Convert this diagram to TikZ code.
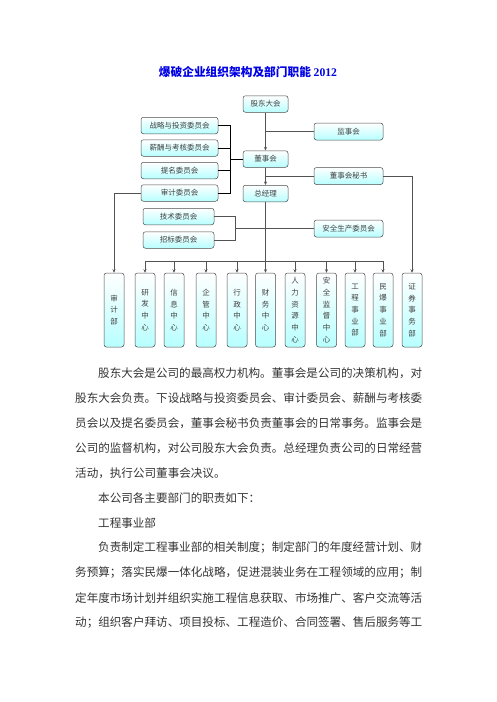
\documentclass[tikz,border=0pt]{standalone}
\usepackage{fontspec}
\usetikzlibrary{arrows.meta}
\newfontfamily\cjk{Noto Sans CJK SC}
\newfontfamily\lat{Liberation Serif}

\tikzset{
  box/.style={draw=gray!60!black, line width=0.5pt, rounded corners=2.5pt,
    top color=white, bottom color=cyan!28, inner sep=0pt,
    font=\cjk\fontsize{7.5}{9}\selectfont, text=black!75},
  mid/.style={box, minimum width=45pt, minimum height=16.5pt},
  lwide/.style={box, minimum width=77pt, minimum height=16.5pt},
  lnarrow/.style={box, minimum width=71pt, minimum height=16.5pt},
  rwide/.style={box, minimum width=69pt, minimum height=17pt},
  dept/.style={box, minimum width=20pt, minimum height=74pt, align=center,
    font=\cjk\fontsize{7.5}{11.7}\selectfont},
  ln/.style={draw=gray!65!black, line width=0.5pt},
  thk/.style={draw=black, line width=0.9pt},
  arr/.style={ln, -{Stealth[length=3.5pt,width=3pt]}},
  txt/.style={anchor=west, inner sep=0pt, text=black!80,
    font=\cjk\fontsize{11.57}{12}\selectfont}
}

\begin{document}
\begin{tikzpicture}[x=1pt, y=-1pt]
    \useasboundingbox (0,0) rectangle (496,702);

    % Title
    \node[font=\cjk\bfseries\fontsize{11.7}{13}\selectfont, text=blue!90!black] (ttl) at (248,72.5) {爆破企业组织架构及部门职能 {\lat\bfseries 2012}};

    % Top of the chart
    \node[mid] (gd) at (265.5,104) {股东大会};
    \node[mid] (dsh) at (265.5,159) {董事会};
    \node[mid] (zjl) at (265.5,193.5) {总经理};

    % Committees on the left
    \node[lwide] (zl) at (179.5,125.5) {战略与投资委员会};
    \node[lwide] (xc) at (179.5,148) {薪酬与考核委员会};
    \node[lwide] (tm) at (179.5,170.5) {提名委员会};
    \node[lwide] (sj) at (179.5,193) {审计委员会};
    \node[lnarrow] (js) at (178.5,216.5) {技术委员会};
    \node[lnarrow] (zb) at (178.5,240) {招标委员会};

    % Boxes on the right
    \node[rwide] (jsh) at (348.5,131.5) {监事会};
    \node[rwide] (ms) at (348.5,176) {董事会秘书};
    \node[rwide] (aq) at (348.5,228.5) {安全生产委员会};

    % Departments
    \foreach \n/\x/\t in {1/114/{审\\计\\部}, 2/145/{研\\发\\中\\心}, 3/174/{信\\息\\中\\心},
        4/206/{企\\管\\中\\心}, 5/237/{行\\政\\中\\心}, 6/265.5/{财\\务\\中\\心},
        7/295/{人\\力\\资\\源\\中\\心}, 8/326.5/{安\\全\\监\\督\\中\\心},
        9/355/{工\\程\\事\\业\\部}, 10/383/{民\\爆\\事\\业\\部}, 11/412/{证\\券\\事\\务\\部}}
        \node[dept] (d\n) at (\x,310) {\t};

    % Main line
    \draw[arr] (gd) -- (dsh);
    \draw[arr] (dsh) -- (zjl);
    \draw[ln] (jsh.west) -- (gd |- jsh.west);
    \draw[ln] (ms.west) -- (gd |- ms.west);

    % Committees bracket
    \coordinate (lb) at (230,159);
    \draw[thk] (zl.east) -- (zl.east -| lb) -- (sj.east -| lb) -- (sj.east);
    \draw[thk] (xc.east) -- (xc.east -| lb);
    \draw[thk] (tm.east) -- (tm.east -| lb);
    \draw[thk] (lb) -- (dsh.west);

    % Technical and bidding committees
    \coordinate (rb) at (235,228.5);
    \draw[ln] (js.east) -- (js.east -| rb) -- (zb.east -| rb) -- (zb.east);
    \draw[ln] (rb) -- (aq.west);

    % Side arrows
    \draw[arr] (ms.east) -| (d11.north);
    \draw[arr] (sj.west) -| (d1.north);

    % Bus to departments
    \coordinate (bus) at (265.5,261);
    \draw[ln] (zjl.south) -- (bus);
    \draw[ln] (d2.north |- bus) -- (d10.north |- bus);
    \foreach \i in {2,...,10}
        \draw[arr] (d\i.north |- bus) -- (d\i.north);

    % Text below
    \node[txt] (p1) at (98,373.5) {股东大会是公司的最高权力机构。董事会是公司的决策机构，对};
    \node[txt] (p2) at (75,398.4) {股东大会负责。下设战略与投资委员会、审计委员会、薪酬与考核委};
    \node[txt] (p3) at (75,423.3) {员会以及提名委员会，董事会秘书负责董事会的日常事务。监事会是};
    \node[txt] (p4) at (75,448.2) {公司的监督机构，对公司股东大会负责。总经理负责公司的日常经营};
    \node[txt] (p5) at (75,473.1) {活动，执行公司董事会决议。};
    \node[txt] (p6) at (98,498) {本公司各主要部门的职责如下：};
    \node[txt] (p7) at (98,522.9) {工程事业部};
    \node[txt] (p8) at (98,547.8) {负责制定工程事业部的相关制度；制定部门的年度经营计划、财};
    \node[txt] (p9) at (75,572.7) {务预算；落实民爆一体化战略，促进混装业务在工程领域的应用；制};
    \node[txt] (p10) at (75,597.6) {定年度市场计划并组织实施工程信息获取、市场推广、客户交流等活};
    \node[txt] (p11) at (75,622.5) {动；组织客户拜访、项目投标、工程造价、合同签署、售后服务等工};
\end{tikzpicture}
\end{document}
